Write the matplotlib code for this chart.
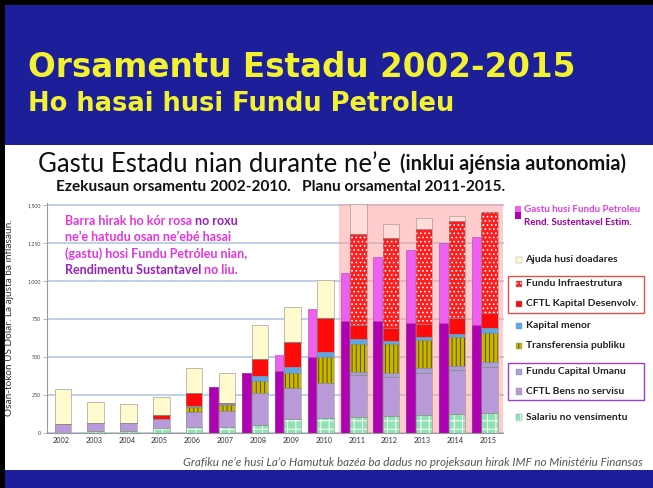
import numpy as np
import matplotlib
matplotlib.use("Agg")
import matplotlib.pyplot as plt
from matplotlib.patches import Rectangle

# values in US$ millions
years = np.arange(2002, 2016)
salariu = [0, 10, 12, 29, 40, 35, 50, 88, 94, 105, 110, 116, 121, 132]
bens_servisu = [55, 51, 50, 59, 98, 110, 209, 204, 235, 275, 260, 279, 289, 298]
capital_umanu = [0, 0, 0, 0, 0, 0, 0, 0, 0, 22, 25, 29, 31, 33]
transferensia = [0, 0, 0, 2, 33, 37, 84, 103, 172, 182, 189, 186, 187, 191]
kapital_menor = [0, 0, 0, 0, 4, 4, 30, 40, 33, 31, 22, 22, 22, 33]
kapital_desenvolv = [0, 0, 5, 26, 89, 12, 110, 165, 224, 94, 81, 84, 103, 99]
fundu_infra = [0, 0, 0, 0, 0, 0, 0, 0, 0, 598, 594, 624, 642, 670]
doadores = [233, 139, 122, 117, 160, 193, 226, 226, 248, 200, 94, 73, 35, 0]
rend_sustentavel = [0, 0, 0, 0, 0, 299, 395, 406, 501, 738, 738, 725, 720, 709]
gastu_fundu = [0, 0, 0, 0, 0, 0, 0, 106, 312, 316, 422, 478, 528, 578]

ytick_vals = [0, 250, 500, 750, 1000, 1250, 1500]

plt.rcParams['hatch.linewidth'] = 0.7

W, H = 653, 488
fig = plt.figure(figsize=(W / 100, H / 100), dpi=100)
fig.patch.set_facecolor("#1c1e9a")


def fx(x):
    return x / W


def fy(y):
    return 1 - y / H


def box(x0, y0, x1, y1, **kw):
    r = Rectangle((fx(x0), fy(y1)), fx(x1) - fx(x0), fy(y0) - fy(y1),
                  transform=fig.transFigure, **kw)
    fig.add_artist(r)
    return r


# slide background: white panel, black frame
box(5, 145, 653, 470, facecolor="white", edgecolor="none", zorder=-2)
box(0, 0, 5, 488, facecolor="black", edgecolor="none", zorder=-2)
box(0, 0, 653, 5, facecolor="black", edgecolor="none", zorder=-2)

fig.text(fx(28), fy(77), "Orsamentu Estadu 2002-2015", color="#f2f230",
         fontsize=23.5, fontweight="bold", family="DejaVu Sans", va="baseline")
fig.text(fx(28), fy(111), "Ho hasai husi Fundu Petroleu", color="#f2f230",
         fontsize=18.5, fontweight="bold", family="DejaVu Sans", va="baseline")

plt.rcParams['font.family'] = ['Lato', 'DejaVu Sans']

fig.text(fx(38), fy(172), "Gastu Estadu nian durante ne\u2019e", fontsize=18.5,
         color="#111111", va="baseline")
fig.text(fx(400), fy(170), "(inklui aj\u00e9nsia autonomia)", fontsize=14.4,
         fontweight="bold", color="#111111", va="baseline")
fig.text(fx(56), fy(191), "Ezekusaun orsamentu 2002-2010.   Planu orsamental 2011-2015.",
         fontsize=11.1, fontweight="bold", color="#111111", va="baseline")

# main chart
ax = fig.add_axes([fx(46.7), fy(432.7), fx(503.5) - fx(46.7), (432.7 - 203.5) / H])
ax.set_facecolor("none")
ax.set_xlim(2001.56, 2015.47)
ax.set_ylim(0, 1510)
ax.set_axisbelow(True)
ax.yaxis.grid(True, color="#b9cce6", lw=1.3)
ax.axvspan(2010.45, 2015.47, color="#ff9c9c", alpha=0.5, lw=0, zorder=0.6)

donor_colors = ["#fffbcf" if y < 2011 else "#ffdcd8" for y in years]
stack = [
    ("Salariu no vensimentu", salariu, "#8fe3b3", "++", "white"),
    ("CFTL Bens no servisu", bens_servisu, "#b99ad8", None, None),
    ("Fundu Capital Umanu", capital_umanu, "#a79fd6", None, None),
    ("Transferensia publiku", transferensia, "#c9b600", "||||", "#5a4e00"),
    ("Kapital menor", kapital_menor, "#5fa6e6", None, None),
    ("CFTL Kapital Desenvolv.", kapital_desenvolv, "#ff0a0a", None, None),
    ("Fundu Infraestrutura", fundu_infra, "#ff1e1e", "....", "white"),
    ("Ajuda husi doadares", doadores, donor_colors, None, None),
]

xs = years + 0.05
bottom = np.zeros(len(years))
for name, vals, col, hatch, hcol in stack:
    vals = np.array(vals, dtype=float)
    with plt.rc_context({'hatch.color': hcol or 'black'}):
        ax.bar(xs, vals, 0.5, bottom=bottom, color=col, hatch=hatch, lw=0, zorder=2)
    ax.bar(xs, vals, 0.5, bottom=bottom, fill=False, edgecolor="#8c8c8c", lw=0.4, zorder=2.1)
    bottom += vals

xm = years - 0.36
ax.bar(xm, rend_sustentavel, 0.26, color="#b000b4", edgecolor="#7a007a", lw=0.4, zorder=2)
ax.bar(xm, gastu_fundu, 0.26, bottom=rend_sustentavel, color="#f060f0",
       edgecolor="#b040b0", lw=0.4, zorder=2)

for s in ["top", "right"]:
    ax.spines[s].set_visible(False)
for s in ["left", "bottom"]:
    ax.spines[s].set_color("#9a9a9a")
    ax.spines[s].set_linewidth(0.8)
ax.set_yticks(ytick_vals)
ax.set_yticklabels([f"{v:,}" for v in ytick_vals])
ax.tick_params(axis="y", labelsize=3.8, labelcolor="#444444", length=3, width=0.5,
               color="#9a9a9a", pad=1.5)
ax.set_xticks(years)
ax.set_xticklabels([str(y) for y in years])
ax.tick_params(axis="x", labelsize=5.3, labelcolor="#333333", length=0, pad=3)

fig.text(fx(10), fy(318), "Osan-tokon US Dolar. La ajusta ba inflasaun.", rotation=90,
         fontsize=7.2, color="#333333", ha="center", va="center")

# note inside the chart, two colours
pink, purple = "#e535e0", "#9b1fc0"
note = [
    [("Barra hirak ho k\u00f3r rosa", pink), (" no roxu", purple)],
    [("ne\u2019e hatudu osan ne\u2019eb\u00e9 hasai", pink)],
    [("(gastu) hosi Fundu Petr\u00f3leu nian,", pink)],
    [("Rendimentu Sustantavel", purple), (" no liu.", pink)],
]
for i, line in enumerate(note):
    t = fig.text(fx(65), fy(221 + 16.3 * i), line[0][0], color=line[0][1],
                 fontsize=9, fontweight="bold", va="center")
    for txt, c in line[1:]:
        t = ax.annotate(txt, xy=(1, 0), xycoords=t, va="bottom", ha="left",
                        color=c, fontsize=9, fontweight="bold")

fig.text(fx(643), fy(462), "Grafiku ne\u2019e husi La\u2019o Hamutuk baz\u00e9a ba dadus no "
         "projeksaun hirak IMF no Minist\u00e9riu Finansas", fontsize=8.4,
         style="italic", color="#555555", ha="right", va="center")

# legend
box(515, 206, 521, 212, facecolor="#f060f0", edgecolor="none")
box(515, 212, 521, 219, facecolor="#b000b4", edgecolor="none")
fig.text(fx(524.5), fy(209.5), "Gastu husi Fundu Petroleu", color="#e040e0",
         fontsize=7.1, fontweight="bold", va="center")
fig.text(fx(524.5), fy(222.5), "Rend. Sustentavel Estim.", color="#a000a8",
         fontsize=7.1, fontweight="bold", va="center")

lfs = 7.4
legend_rows = {
    "Ajuda husi doadares": 259.5,
    "Fundu Infraestrutura": 284,
    "CFTL Kapital Desenvolv.": 303.5,
    "Kapital menor": 325.5,
    "Transferensia publiku": 345.5,
    "Fundu Capital Umanu": 372,
    "CFTL Bens no servisu": 391.5,
    "Salariu no vensimentu": 417.5,
}
for name, vals, col, hatch, hcol in stack:
    yc = legend_rows[name]
    c = col[0] if isinstance(col, list) else col
    with plt.rc_context({'hatch.color': hcol or 'black'}):
        box(516, yc - 3, 522, yc + 3, facecolor=c, hatch=hatch, lw=0)
    box(516, yc - 3, 522, yc + 3, fill=False, edgecolor="#999999", lw=0.3)
    fig.text(fx(525.5), fy(yc), name, fontsize=lfs, fontweight="bold",
             color="#222222", va="center")
box(508, 276.5, 644, 312.5, fill=False, edgecolor="#e05050", lw=1.0)
box(508, 362.5, 644, 400, fill=False, edgecolor="#9a40d0", lw=1.0)

fig.savefig("out.png", dpi=100, facecolor=fig.get_facecolor())
